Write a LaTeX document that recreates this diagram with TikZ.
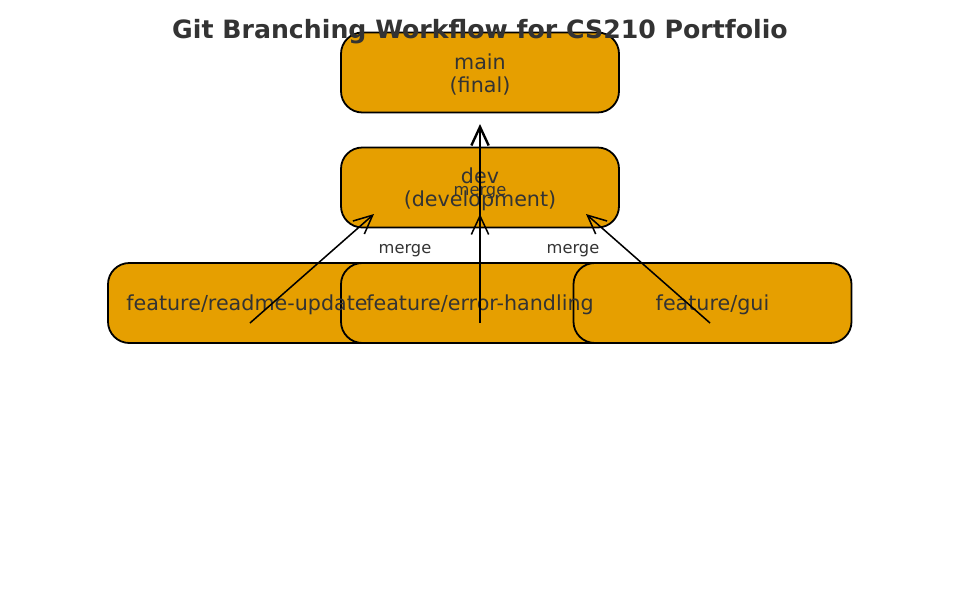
\documentclass[tikz,border=0pt]{standalone}
\usepackage{fontspec}
\setmainfont{DejaVu Sans}
\usetikzlibrary{arrows.meta}
\definecolor{boxfill}{HTML}{E69F00}
\definecolor{txt}{HTML}{333333}
\begin{document}
\begin{tikzpicture}[x=0.75pt,y=-0.75pt,
  branch/.style={draw=black, line width=1.35pt, fill=boxfill, rounded corners=16pt,
    minimum width=208.5pt, minimum height=60pt, inner sep=0pt},
  boxtext/.style={text=txt, font=\fontsize{15.5}{17}\selectfont, align=center, inner sep=0pt},
  mergetext/.style={text=txt, font=\fontsize{12.2}{14}\selectfont, inner sep=0pt},
  titletext/.style={text=txt, font=\bfseries\fontsize{18.9}{22}\selectfont, inner sep=0pt},
  link/.style={draw=black, line width=1.15pt, -{Straight Barb[length=14pt,width=13pt]}},
  mainlink/.style={link, line width=1.8pt},
]
\useasboundingbox (0,0) rectangle (959,607);
% boxes
\node[branch] (mainbox) at (480,72.5) {};
\node[branch] (devbox) at (480,187.5) {};
\node[branch] (readmebox) at (247,303) {};
\node[branch] (errbox) at (480,303) {};
\node[branch] (guibox) at (712.5,303) {};
% texts
\node[boxtext] (maintext) at ([yshift=-1.5pt]mainbox.center) {main\\(final)};
\node[boxtext] (devtext) at ([yshift=-1.5pt]devbox.center) {dev\\(development)};
\node[boxtext] (readmetext) at ([yshift=-1.5pt]readmebox.center) {feature/readme-update};
\node[boxtext] (errtext) at ([yshift=-1.5pt]errbox.center) {feature/error-handling};
\node[boxtext] (guitext) at ([yshift=-1.5pt]guibox.center) {feature/gui};
% arrow ends
\coordinate (rs) at (250,323); \coordinate (re) at (374,214);
\coordinate (es) at (480,323); \coordinate (ee) at (480,214);
\coordinate (gs) at (710,323); \coordinate (ge) at (586,214);
\coordinate (de) at (480,124);
\draw[link] (rs) -- (re);
\draw[link] (es) -- (ee);
\draw[link] (gs) -- (ge);
\draw[mainlink] (devbox.south) -- (de);
\node[mergetext] (m1) at (405,251) {merge};
\node[mergetext] (m2) at (480,193) {merge};
\node[mergetext] (m3) at (573,251) {merge};
\node[titletext] (title) at (480,32) {Git Branching Workflow for CS210 Portfolio};
\end{tikzpicture}
\end{document}
